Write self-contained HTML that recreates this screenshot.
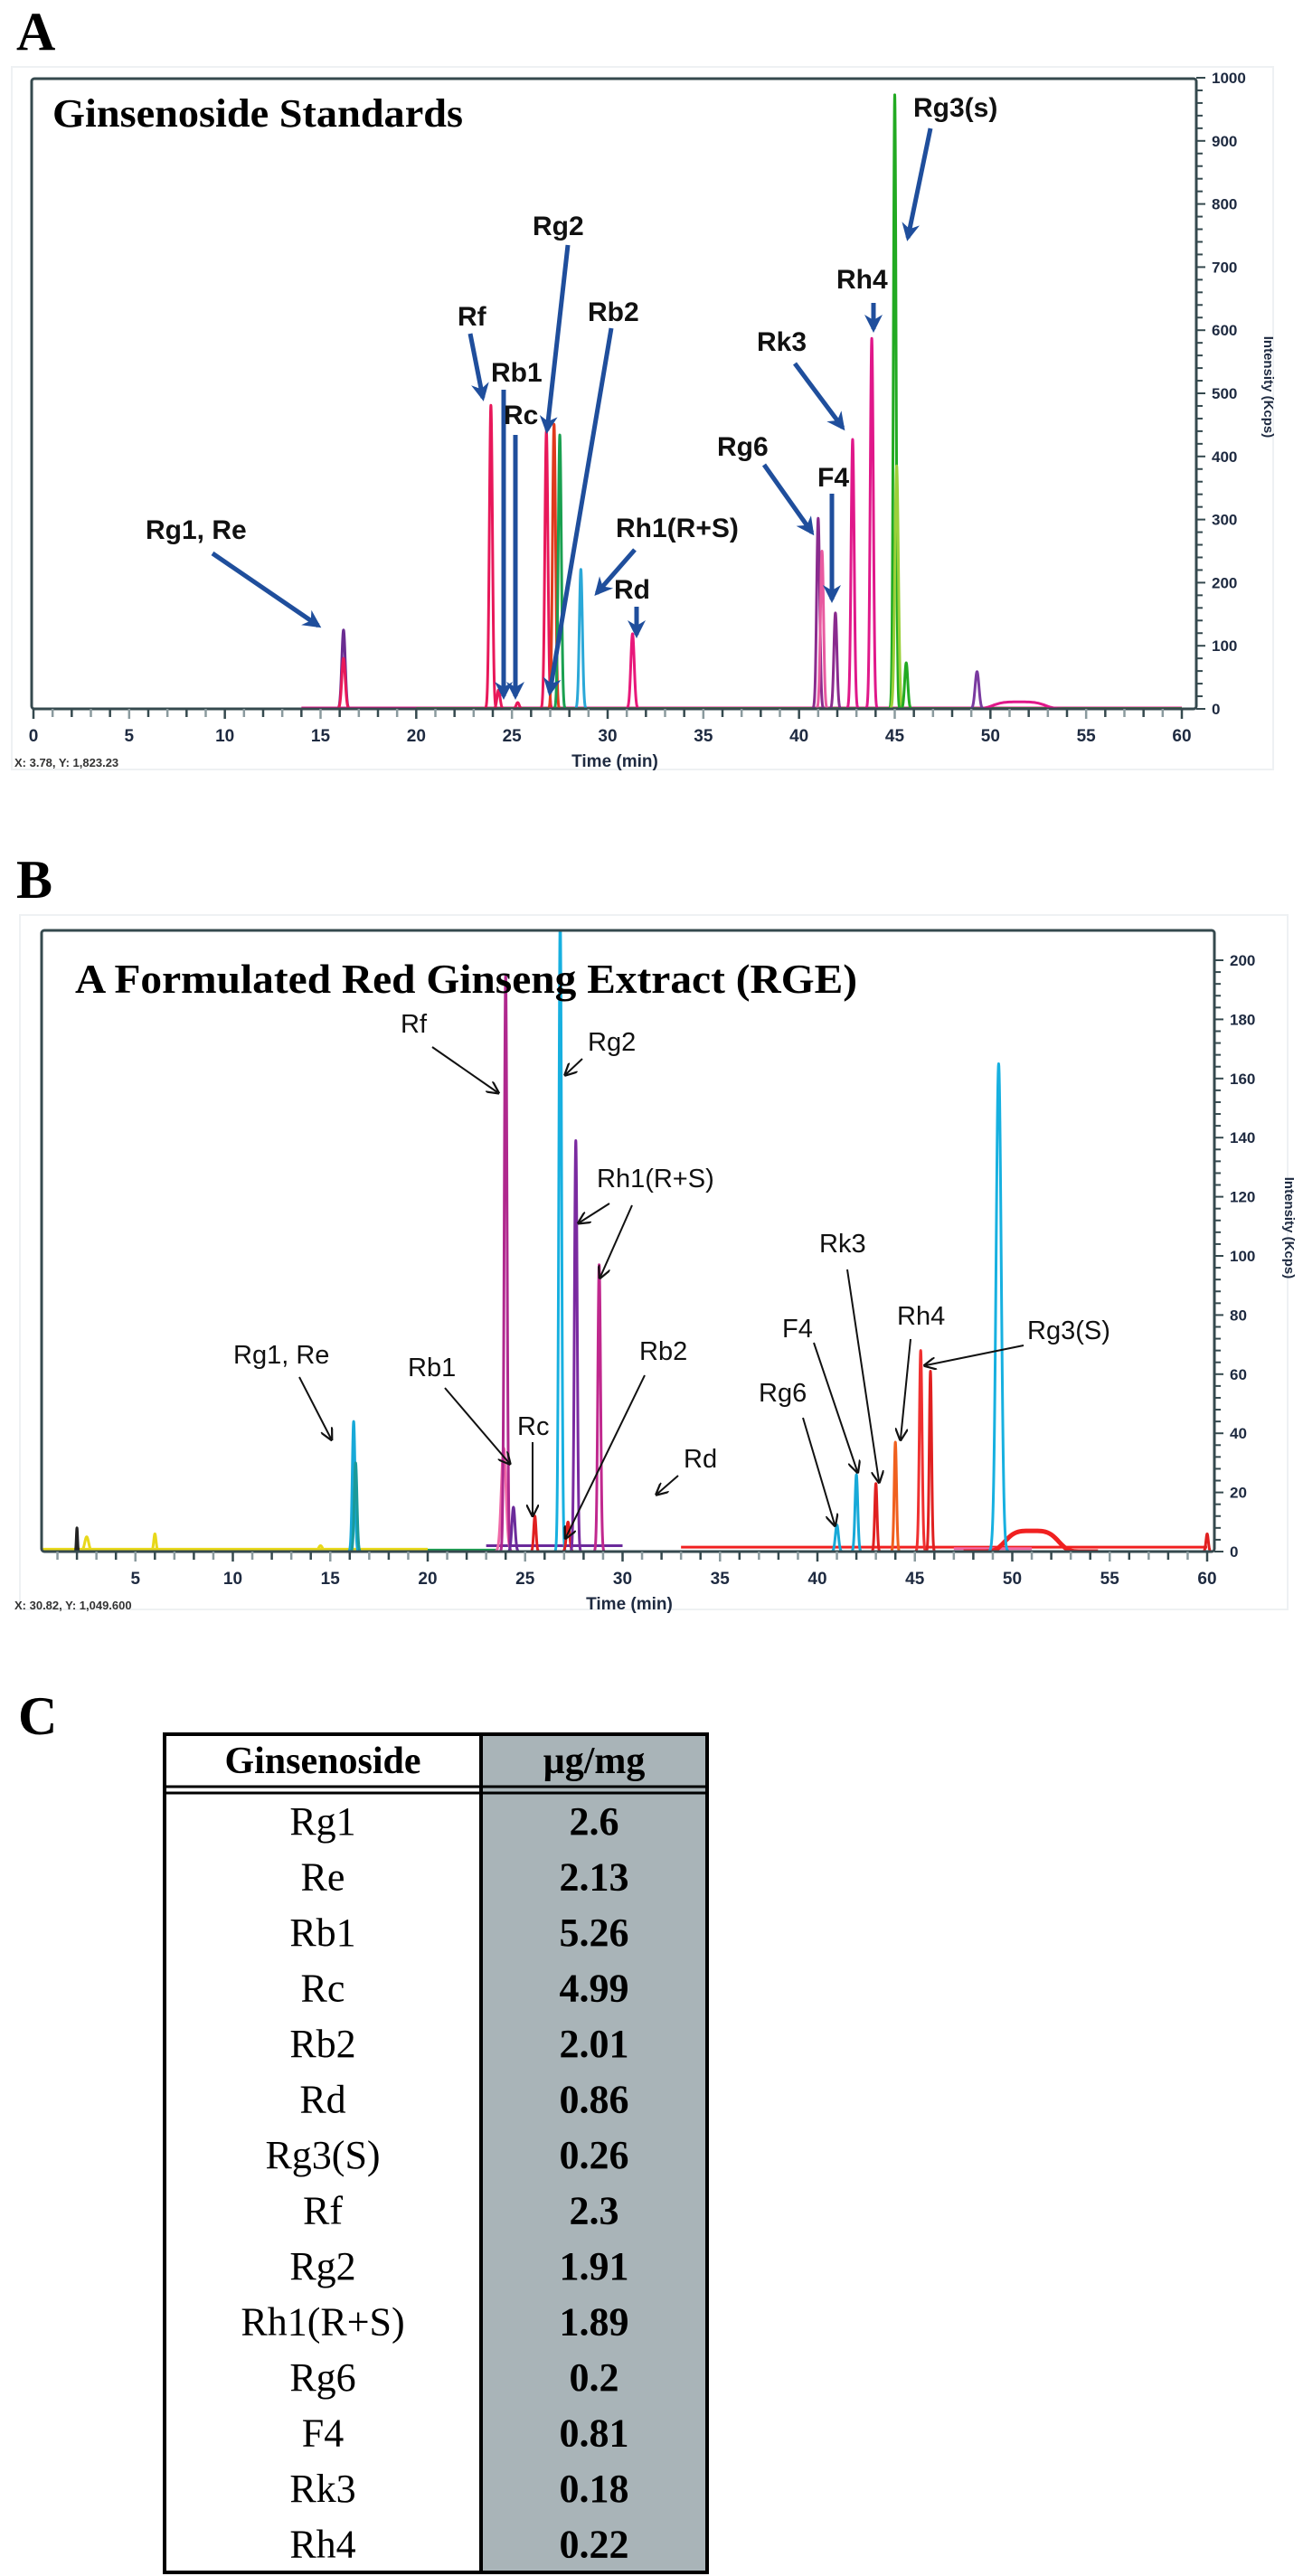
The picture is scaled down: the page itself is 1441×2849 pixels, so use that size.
<!DOCTYPE html>
<html><head><meta charset="utf-8"><title>Ginsenoside chromatograms</title>
<style>
html,body{margin:0;padding:0;background:#fff;}
svg{display:block;}
.lbl{font-family:"Liberation Sans",sans-serif;}
.ser{font-family:"Liberation Serif",serif;}
</style></head>
<body>
<svg id="fig" xmlns="http://www.w3.org/2000/svg" width="1441" height="2849" viewBox="0 0 1441 2849">
<defs>
<marker id="ahBlue" viewBox="0 0 10 10" refX="8" refY="5" markerWidth="4" markerHeight="4" orient="auto"><path d="M0,0 L10,5 L0,10 L3,5 z" fill="#1f4e9c"/></marker>
<marker id="ahBlack" viewBox="0 0 10 10" refX="8" refY="5" markerWidth="7" markerHeight="7" orient="auto"><path d="M0,0 L10,5 L0,10" fill="none" stroke="#111" stroke-width="1.6"/></marker>
<clipPath id="clipA"><rect x="35" y="85" width="1288" height="700"/></clipPath>
<clipPath id="clipB"><rect x="46" y="1029" width="1297" height="688"/></clipPath>
</defs>

<!-- Panel A -->
<text class="ser" x="18" y="55" font-size="60" font-weight="bold">A</text>
<rect x="13" y="74" width="1395" height="777" fill="none" stroke="#eef1f3" stroke-width="2"/>
<g id="panelA"></g>
<text class="ser" x="58" y="140" font-size="44" font-weight="bold" textLength="454" lengthAdjust="spacingAndGlyphs">Ginsenoside Standards</text>

<!-- Panel B -->
<text class="ser" x="18" y="993" font-size="60" font-weight="bold">B</text>
<rect x="22" y="1012" width="1402" height="768" fill="none" stroke="#eef1f3" stroke-width="2"/>
<g id="panelB"></g>
<text class="ser" x="83" y="1098" font-size="46" font-weight="bold" textLength="865" lengthAdjust="spacingAndGlyphs">A Formulated Red Ginseng Extract (RGE)</text>

<!-- Panel C -->
<text class="ser" x="20" y="1918" font-size="60" font-weight="bold">C</text>
<g id="tableC"></g>
</svg>

<script>
// ---------- Panel A data ----------
const timesA   = [16.2, 16.2, 23.9, 24.3, 25.3, 26.8, 27.2, 27.5, 28.6, 31.3, 41.0, 41.2, 41.9, 42.8, 43.8, 45.0, 45.1, 45.6, 49.3];
const heightsA = [125,  80,   481,  30,   10,   440,  451,  434,  221,  119,  302,  250,  152,  427,  587,  973,  385,  73,   59];
const colorsA  = ['#6a2c91','#e8185a','#e8185a','#e8185a','#e8185a','#e8185a','#e03a1e','#1aa050','#2aa8d8','#e8187a','#8a2b8e','#e85aa0','#8a2b8e','#e0188a','#e0188a','#22aa22','#9bd03a','#22aa22','#7a3aa0'];
const sigmaA   = [0.09,0.09,0.08,0.08,0.08,0.08,0.08,0.08,0.08,0.09,0.08,0.08,0.08,0.08,0.08,0.07,0.09,0.08,0.1];
const humpTimesA = [51.5];
const humpHeightsA = [11];
const yTicksA = [0,100,200,300,400,500,600,700,800,900,1000];
const xTicksA = [0,5,10,15,20,25,30,35,40,45,50,55,60];

// ---------- Panel B data ----------
const timesB   = [2.0, 2.5, 6.0, 14.5, 16.2, 16.3, 23.9, 24.0, 24.4, 25.5, 26.8, 27.2, 27.6, 28.8, 41.0, 42.0, 43.0, 44.0, 45.3, 45.8, 49.3, 60.0];
const heightsB = [8,   5,   6,   2,    44,   30,   35,   195,  15,   12,   215,  10,   139,  97,   9,    26,   23,   37,   68,   61,   165,  6];
const colorsB  = ['#222','#e8d81a','#e8d81a','#e8d81a','#17a9d8','#1a9a9a','#f06aa8','#b0288e','#6a2a9a','#e02020','#17b0e0','#e02020','#7a2aa0','#c0288e','#17a9d8','#17a9d8','#e02020','#f0601e','#f03030','#e02020','#17b0e0','#e02020'];
const sigmaB   = [0.03,0.1,0.06,0.1,0.07,0.07,0.12,0.07,0.08,0.06,0.07,0.08,0.07,0.07,0.08,0.07,0.06,0.06,0.07,0.06,0.13,0.06];
const humpTimesB = [51.0];
const humpHeightsB = [7];
const yTicksB = [0,20,40,60,80,100,120,140,160,180,200];
const xTicksB = [5,10,15,20,25,30,35,40,45,50,55,60];

// ---------- Table data ----------
const ginsenosides = ['Rg1','Re','Rb1','Rc','Rb2','Rd','Rg3(S)','Rf','Rg2','Rh1(R+S)','Rg6','F4','Rk3','Rh4'];
const contents = ['2.6','2.13','5.26','4.99','2.01','0.86','0.26','2.3','1.91','1.89','0.2','0.81','0.18','0.22'];

const NS='http://www.w3.org/2000/svg';
function mk(tag, attrs, parent){const e=document.createElementNS(NS,tag);for(const k in attrs)e.setAttribute(k,attrs[k]);parent.appendChild(e);return e;}

function drawPanel(g, cfg){
  const xs = t => cfg.x0 + (t/60)*(cfg.x60-cfg.x0);
  const ys = v => cfg.y0 - v*cfg.ky;
  const clip = mk('g',{'clip-path':'url(#'+cfg.clip+')'},g);
  // baselines
  cfg.baselines.forEach(b=>{
    const p=mk('line',{x1:xs(b[0]),x2:xs(b[1]),y1:ys(b[2]),y2:ys(b[2]),stroke:b[3],'stroke-width':3},clip);
    
    
  });
  // humps
  cfg.humpT.forEach((t,i)=>{
    let d='';
    for(let u=t-3.5;u<=t+3.5;u+=0.1){const v=cfg.humpH[i]*Math.exp(-Math.pow((u-t)/1.5,4));d+=(d?'L':'M')+xs(u).toFixed(1)+','+ys(v).toFixed(1);}
    const p=mk('path',{d:d,fill:'none',stroke:cfg.humpColor,'stroke-width':cfg.humpW},clip);
    
    
  });
  // peaks
  cfg.times.forEach((t,i)=>{
    const s=cfg.sig[i];let d='';
    for(let k=-40;k<=40;k++){const u=t+k*s/10;const v=cfg.heights[i]*Math.exp(-0.5*Math.pow((u-t)/s,2));d+=(d?'L':'M')+xs(u).toFixed(2)+','+ys(v).toFixed(2);}
    const p=mk('path',{d:d,fill:'none',stroke:cfg.colors[i],'stroke-width':3,'stroke-linejoin':'round'},clip);
    
    
  });
  // axes box
  const ax='#35494e';
  const box=mk('rect',{x:cfg.left,y:cfg.top,width:cfg.right-cfg.left,height:cfg.y0-cfg.top,fill:'none',stroke:ax,'stroke-width':3,rx:3},g);
  
  
  // x ticks (each minute)
  for(let m=0;m<=60;m++){
    if(xs(m)<cfg.left)continue;
    mk('line',{x1:xs(m),x2:xs(m),y1:cfg.y0,y2:cfg.y0+(m%5===0?11:9),stroke:m%2?'#8a9a9e':ax,'stroke-width':2.5},g);
  }
  cfg.xTicks.forEach(v=>{
    const t=mk('text',{x:xs(v),y:cfg.y0+36,'text-anchor':'middle','font-size':19,'font-weight':'bold',fill:'#1e2a40',class:'lbl'},g);
    t.textContent=v;
    
    
  });
  // y minor ticks
  const step=(cfg.yTicks[1]-cfg.yTicks[0])/5;
  for(let v=0;v<=cfg.yTicks[cfg.yTicks.length-1];v+=step){
    mk('line',{x1:cfg.right,x2:cfg.right+(Math.abs(v%(step*5))<1e-6?10:7),y1:ys(v),y2:ys(v),stroke:ax,'stroke-width':2},g);
  }
  cfg.yTicks.forEach(v=>{
    const t=mk('text',{x:cfg.right+17,y:ys(v)+6,'font-size':17,'font-weight':'bold',fill:'#1e2a40',class:'lbl'},g);
    t.textContent=v;
    
    
  });
  const xt=mk('text',{x:cfg.xTitleX,y:cfg.y0+64,'text-anchor':'middle','font-size':19,'font-weight':'bold',fill:'#1e2a40',class:'lbl'},g);
  xt.textContent='Time (min)';
  
  
  const yt=mk('text',{x:0,y:0,'text-anchor':'middle','font-size':15,'font-weight':'bold',fill:'#1e2a40',class:'lbl',transform:'translate('+cfg.yTitleX+','+cfg.yTitleY+') rotate(90)'},g);
  yt.textContent='Intensity (Kcps)';
  
  
  const ct=mk('text',{x:16,y:cfg.y0+64,'font-size':13,'font-weight':'bold',fill:'#333',class:'lbl'},g);
  ct.textContent=cfg.cursor;
  
  
  // annotations
  cfg.ann.forEach(a=>{
    const t=mk('text',{x:a[1],y:a[2],'font-size':cfg.annSize,'font-weight':cfg.annWeight,fill:'#111',class:'lbl'},g);
    t.textContent=a[0];
    
    
    for(let k=3;k<a.length;k++){
      const r=a[k];
      const l=mk('line',{x1:r[0],y1:r[1],x2:r[2],y2:r[3],stroke:cfg.arrowColor,'stroke-width':cfg.arrowW,'marker-end':'url(#'+cfg.marker+')'},g);
      
      
    }
  });
}

drawPanel(document.getElementById('panelA'),{
  x0:37,x60:1307,y0:784,ky:0.698,left:35,top:87,right:1323,clip:'clipA',
  times:timesA,heights:heightsA,colors:colorsA,sig:sigmaA,
  humpT:humpTimesA,humpH:humpHeightsA,humpColor:'#e0188a',humpW:3,
  baselines:[[14,60,1.5,'#e0188a'],[20,60,0.5,'#22aa22']],
  xTicks:xTicksA,yTicks:yTicksA,xTitleX:680,yTitleX:1398,yTitleY:428,
  cursor:'X: 3.78, Y: 1,823.23',
  annSize:30,annWeight:'bold',arrowColor:'#1f4e9c',arrowW:5,marker:'ahBlue',
  ann:[
    ['Rg1, Re',161,596,[235,612,352,692]],
    ['Rf',506,360,[520,369,534,440]],
    ['Rb1',543,422,[557,431,557,770]],
    ['Rc',557,469,[570,481,570,770]],
    ['Rg2',589,260,[628,271,605,476]],
    ['Rb2',650,355,[676,363,608,766]],
    ['Rh1(R+S)',681,594,[702,608,660,656]],
    ['Rd',679,662,[704,671,704,702]],
    ['Rg6',793,504,[845,514,898,589]],
    ['F4',904,538,[920,546,920,663]],
    ['Rk3',837,388,[879,402,932,473]],
    ['Rh4',925,319,[966,335,966,364]],
    ['Rg3(s)',1010,129,[1029,142,1004,263]]
  ]
});

drawPanel(document.getElementById('panelB'),{
  x0:42,x60:1335,y0:1716,ky:3.27,left:46,top:1029,right:1343,clip:'clipB',
  times:timesB,heights:heightsB,colors:colorsB,sig:sigmaB,
  humpT:humpTimesB,humpH:humpHeightsB,humpColor:'#f02020',humpW:5,
  baselines:[[0,20,0.8,'#e8d81a'],[20,23.5,0.5,'#1aa050'],[23,30,2,'#6a2a9a'],[33,60,1.5,'#f02020'],[47,51,1,'#f06aa8']],
  xTicks:xTicksB,yTicks:yTicksB,xTitleX:696,yTitleX:1421,yTitleY:1358,
  cursor:'X: 30.82, Y: 1,049.600',
  annSize:29,annWeight:'normal',arrowColor:'#111',arrowW:2,marker:'ahBlack',
  ann:[
    ['Rf',443,1142,[478,1158,550,1208]],
    ['Rg2',650,1162,[644,1171,626,1188]],
    ['Rh1(R+S)',660,1313,[674,1331,641,1352],[699,1333,664,1412]],
    ['Rk3',906,1385,[937,1404,972,1638]],
    ['F4',865,1479,[900,1485,948,1627]],
    ['Rh4',992,1465,[1007,1481,996,1591]],
    ['Rg3(S)',1136,1481,[1132,1488,1024,1510]],
    ['Rg6',839,1550,[888,1568,923,1686]],
    ['Rg1, Re',258,1508,[331,1523,366,1591]],
    ['Rb1',451,1522,[492,1535,563,1618]],
    ['Rc',572,1587,[589,1595,589,1675]],
    ['Rb2',707,1504,[713,1521,626,1700]],
    ['Rd',756,1623,[750,1632,727,1652]]
  ]
});

// ---------- Table ----------
(function(){
  const g=document.getElementById('tableC');
  const L=182,D=532,R=782,T=1918,H1=1978,rowTop=1984,pitch=61.5;
  const bottom=rowTop+pitch*ginsenosides.length;
  mk('rect',{x:D,y:T,width:R-D,height:bottom-T,fill:'#a9b4b8'},g);
  mk('rect',{x:L,y:T,width:R-L,height:bottom-T,fill:'none',stroke:'#000','stroke-width':4},g);
  mk('line',{x1:D,x2:D,y1:T,y2:bottom,stroke:'#000','stroke-width':4},g);
  mk('line',{x1:L,x2:R,y1:H1-2,y2:H1-2,stroke:'#000','stroke-width':3},g);
  mk('line',{x1:L,x2:R,y1:H1+5,y2:H1+5,stroke:'#000','stroke-width':3},g);
  const h1=mk('text',{x:(L+D)/2,y:1961,'text-anchor':'middle','font-size':42,'font-weight':'bold',class:'ser'},g);
  h1.textContent='Ginsenoside';
  
  
  const h2=mk('text',{x:(D+R)/2,y:1961,'text-anchor':'middle','font-size':42,'font-weight':'bold',class:'ser'},g);
  h2.textContent='\u00b5g/mg';
  
  
  ginsenosides.forEach((n,i)=>{
    const cy=rowTop+pitch*i+pitch/2;
    const a=mk('text',{x:(L+D)/2,y:cy+14,'text-anchor':'middle','font-size':44,class:'ser'},g);
    a.textContent=n;
    
    
    const b=mk('text',{x:(D+R)/2,y:cy+14,'text-anchor':'middle','font-size':44,'font-weight':'bold',class:'ser'},g);
    b.textContent=contents[i];
    
    
  });
})();
</script>
</body></html>
